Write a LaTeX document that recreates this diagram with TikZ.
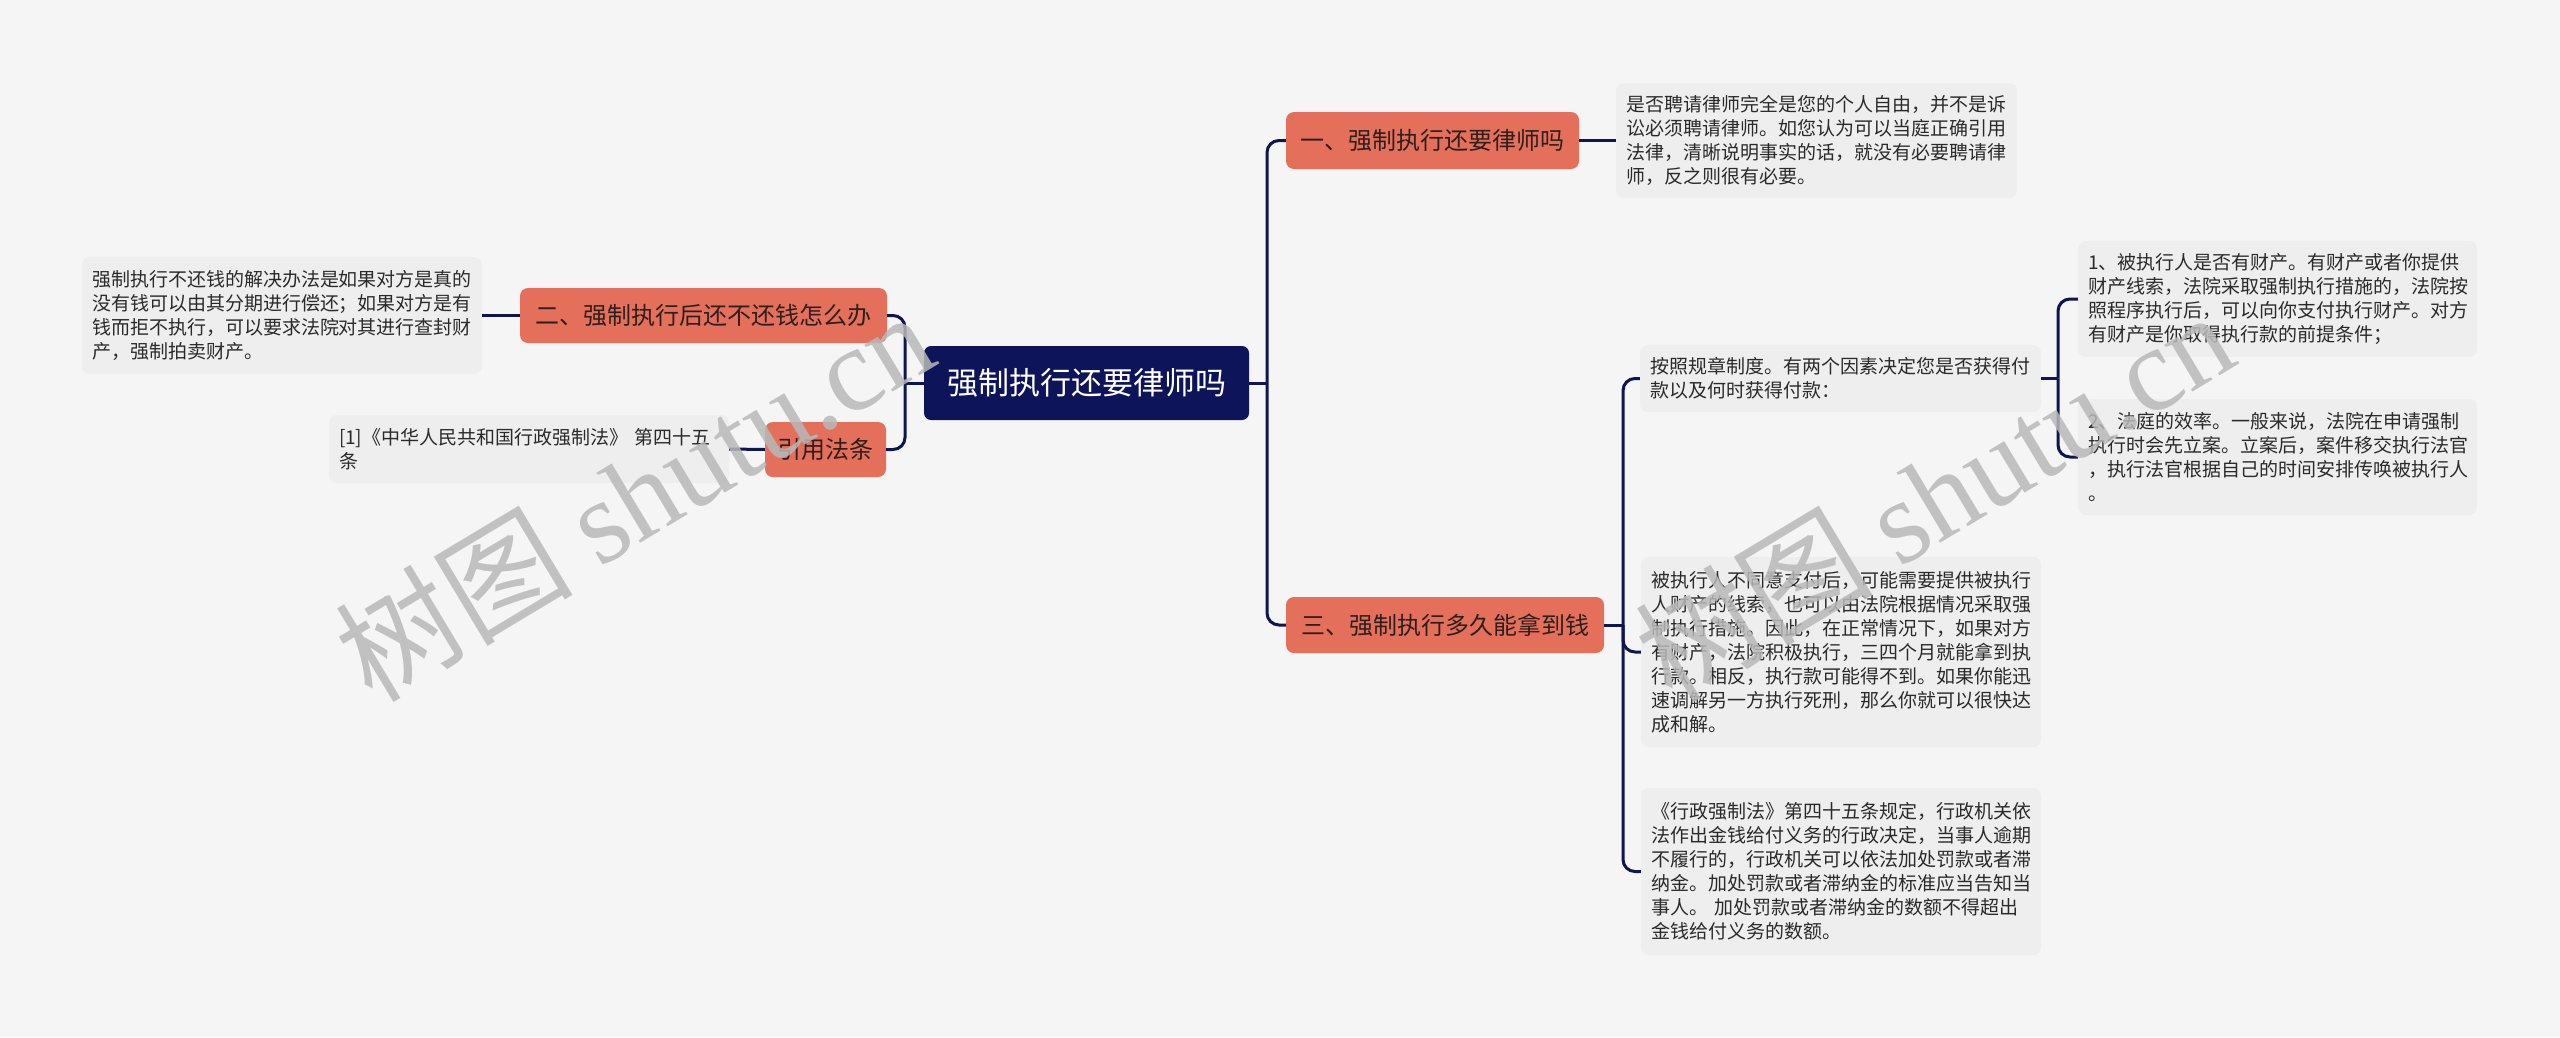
\documentclass[tikz,border=0pt]{standalone}
\usepackage{fontspec}
\setmainfont{Noto Sans CJK SC}
\newfontfamily\wmserif{Liberation Serif}
\newfontfamily\wmcjk{Noto Sans CJK SC}
\definecolor{bgc}{HTML}{F5F5F5}
\definecolor{leafc}{HTML}{EEEEEE}
\definecolor{mainc}{HTML}{E4705C}
\definecolor{maintext}{HTML}{2E1E1C}
\definecolor{rootc}{HTML}{0E145A}
\definecolor{connc}{HTML}{0F1550}
\definecolor{leaftext}{HTML}{2A2A2A}
\definecolor{wmc}{HTML}{B8B8B8}
\begin{document}
\begin{tikzpicture}[x=1pt,y=-1pt,
  rootbox/.style={fill=rootc, rounded corners=7pt, inner sep=0pt, text=white, font=\fontsize{31}{36}\selectfont},
  mainbox/.style={fill=mainc, rounded corners=8pt, inner sep=0pt, text=maintext, font=\fontsize{24}{28}\selectfont},
  leafbox/.style={fill=leafc, rounded corners=8pt, inner xsep=10pt, inner ysep=0pt, align=left, text=leaftext, font=\fontsize{19}{24}\selectfont},
  conn/.style={draw=connc, line width=3pt, rounded corners=12pt},
  wmark/.style={text=wmc, opacity=0.85, inner sep=0pt, anchor=base west, rotate=31}
]
\fill[bgc] (0,0) rectangle (2560,1037);
\useasboundingbox (0,0) rectangle (2560,1037);

% root and main nodes
\node[rootbox, minimum width=325pt, minimum height=74pt] (root) at (1086.5,383) {强制执行还要律师吗};
\node[mainbox, minimum width=293pt, minimum height=57pt] (n1) at (1432.5,140.5) {一、强制执行还要律师吗};
\node[mainbox, minimum width=367pt, minimum height=55pt] (n2) at (703.5,315.5) {二、强制执行后还不还钱怎么办};
\node[mainbox, minimum width=121pt, minimum height=55pt] (n3) at (825.5,449.5) {引用法条};
\node[mainbox, minimum width=318pt, minimum height=56pt] (n4) at (1445,625) {三、强制执行多久能拿到钱};

% leaves
\node[leafbox, text width=381pt, minimum height=115pt] (l1) at (1816.5,140.5) {是否聘请律师完全是您的个人自由，并不是诉\\讼必须聘请律师。如您认为可以当庭正确引用\\法律，清晰说明事实的话，就没有必要聘请律\\师，反之则很有必要。};
\node[leafbox, text width=380pt, minimum height=117pt] (l2) at (282,315.5) {强制执行不还钱的解决办法是如果对方是真的\\没有钱可以由其分期进行偿还；如果对方是有\\钱而拒不执行，可以要求法院对其进行查封财\\产，强制拍卖财产。};
\node[leafbox, text width=380pt, minimum height=68pt] (l3) at (529,449) {[1]《中华人民共和国行政强制法》 第四十五\\条};
\node[leafbox, text width=381pt, minimum height=67pt] (l4a) at (1840.5,378.5) {按照规章制度。有两个因素决定您是否获得付\\款以及何时获得付款：};
\node[leafbox, text width=379pt, minimum height=116pt] (l4a1) at (2277.5,299) {1、被执行人是否有财产。有财产或者你提供\\财产线索，法院采取强制执行措施的，法院按\\照程序执行后，可以向你支付执行财产。对方\\有财产是你取得执行款的前提条件；};
\node[leafbox, text width=379pt, minimum height=116pt] (l4a2) at (2277.5,457) {2、法庭的效率。一般来说，法院在申请强制\\执行时会先立案。立案后，案件移交执行法官\\，执行法官根据自己的时间安排传唤被执行人\\。};
\node[leafbox, text width=380pt, minimum height=190pt] (l4b) at (1841,652) {被执行人不同意支付后，可能需要提供被执行\\人财产的线索，也可以由法院根据情况采取强\\制执行措施。因此，在正常情况下，如果对方\\有财产，法院积极执行，三四个月就能拿到执\\行款。相反，执行款可能得不到。如果你能迅\\速调解另一方执行死刑，那么你就可以很快达\\成和解。};
\node[leafbox, text width=380pt, minimum height=167pt] (l4c) at (1841,871.5) {《行政强制法》第四十五条规定，行政机关依\\法作出金钱给付义务的行政决定，当事人逾期\\不履行的，行政机关可以依法加处罚款或者滞\\纳金。加处罚款或者滞纳金的标准应当告知当\\事人。 加处罚款或者滞纳金的数额不得超出\\金钱给付义务的数额。};

% junction coordinates
\coordinate (jr) at (1267,383);
\coordinate (jl) at (905,383);
\coordinate (j4) at (1623,625);
\coordinate (j4a) at (2058,378.5);

% connectors
\draw[conn] (root.east) -- (jr);
\draw[conn] (jr) |- (n1.west);
\draw[conn] (jr) |- (n4.west);
\draw[conn] (root.west) -- (jl);
\draw[conn] (jl) |- (n2.east);
\draw[conn] (jl) |- (n3.east);
\draw[conn] (n1.east) -- (l1.west);
\draw[conn] (n2.west) -- (l2.east);
\draw[conn] (n3.west) -- (l3.east);
\draw[conn] (n4.east) -- (j4);
\draw[conn] (j4) |- (l4a.west);
\draw[conn] (j4) |- (l4b.west);
\draw[conn] (j4) |- (l4c.west);
\draw[conn] (l4a.east) -- (j4a);
\draw[conn] (j4a) |- (l4a1.west);
\draw[conn] (j4a) |- (l4a2.west);

% watermarks
\node[wmark] (wm1) at (372,705) {\fontsize{119}{119}\selectfont\wmcjk 树图 \wmserif shutu.cn};
\node[wmark] (wm2) at (1672,705) {\fontsize{119}{119}\selectfont\wmcjk 树图 \wmserif shutu.cn};
\end{tikzpicture}
\end{document}
